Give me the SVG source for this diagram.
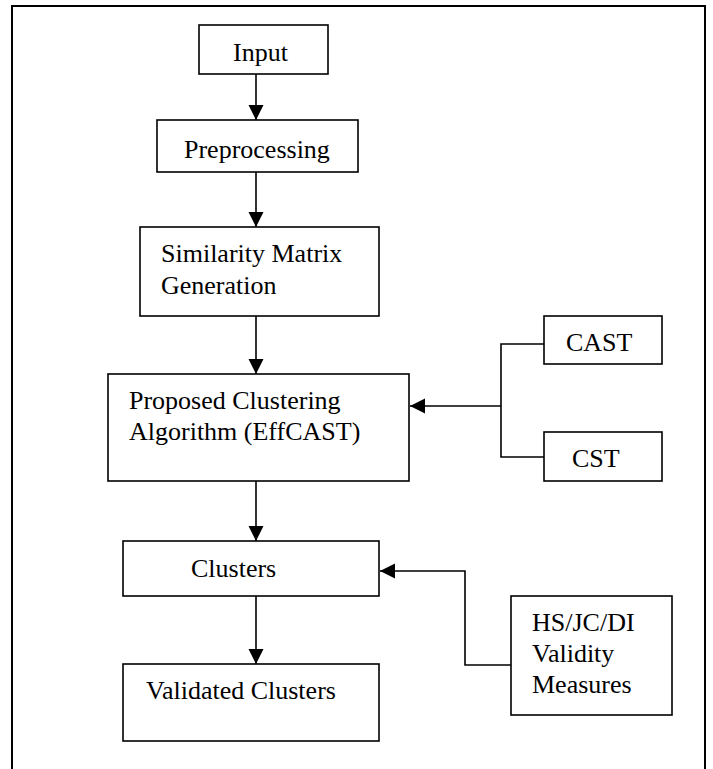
<svg xmlns="http://www.w3.org/2000/svg" width="713" height="769" viewBox="0 0 713 769">
<defs>
<style>
.box{fill:#fff;stroke:#000;stroke-width:1.6}
.t{font-family:"Liberation Serif","Times New Roman",serif;font-size:26px;fill:#000}
.c{fill:none;stroke:#000;stroke-width:1.6}
</style>
<marker id="ah" markerUnits="userSpaceOnUse" markerWidth="16" markerHeight="16" refX="15" refY="7.5" orient="auto">
<path d="M0,0 L15,7.5 L0,15 Z" fill="#000"/>
</marker>
</defs>
<rect x="0" y="0" width="713" height="769" fill="#fff"/>
<path d="M12,769 L12,6 L705,6 L705,769" fill="none" stroke="#000" stroke-width="2"/>
<g id="connectors">
<line class="c" x1="256" y1="74" x2="256" y2="120" marker-end="url(#ah)"/>
<line class="c" x1="256" y1="172" x2="256" y2="227" marker-end="url(#ah)"/>
<line class="c" x1="256" y1="316" x2="256" y2="374" marker-end="url(#ah)"/>
<line class="c" x1="256" y1="481" x2="256" y2="541" marker-end="url(#ah)"/>
<line class="c" x1="256" y1="596" x2="256" y2="664" marker-end="url(#ah)"/>
<path class="c" d="M544,344 L501,344 L501,457 L544,457"/>
<line class="c" x1="501" y1="406" x2="410" y2="406" marker-end="url(#ah)"/>
<polyline class="c" points="511,665 465,665 465,571 380,571" marker-end="url(#ah)"/>
</g>
<g id="input">
<rect class="box" x="199" y="25" width="129" height="49"/>
<text class="t" x="233" y="61">Input</text>
</g>
<g id="preprocessing">
<rect class="box" x="157" y="120" width="201" height="52"/>
<text class="t" x="184" y="158">Preprocessing</text>
</g>
<g id="similarity">
<rect class="box" x="140" y="227" width="239" height="89"/>
<text class="t" x="161" y="262">Similarity Matrix</text>
<text class="t" x="161" y="294">Generation</text>
</g>
<g id="proposed">
<rect class="box" x="108" y="374" width="301" height="107"/>
<text class="t" x="129" y="409">Proposed Clustering</text>
<text class="t" x="129" y="440">Algorithm (EffCAST)</text>
</g>
<g id="cast">
<rect class="box" x="544" y="316" width="118" height="48"/>
<text class="t" x="566" y="351">CAST</text>
</g>
<g id="cst">
<rect class="box" x="544" y="432" width="118" height="49"/>
<text class="t" x="572" y="467">CST</text>
</g>
<g id="clusters">
<rect class="box" x="123" y="541" width="256" height="55"/>
<text class="t" x="191" y="577">Clusters</text>
</g>
<g id="validated">
<rect class="box" x="123" y="664" width="256" height="77"/>
<text class="t" x="146" y="699">Validated Clusters</text>
</g>
<g id="measures">
<rect class="box" x="511" y="596" width="161" height="119"/>
<text class="t" x="532" y="631">HS/JC/DI</text>
<text class="t" x="532" y="662">Validity</text>
<text class="t" x="532" y="693">Measures</text>
</g>
</svg>
